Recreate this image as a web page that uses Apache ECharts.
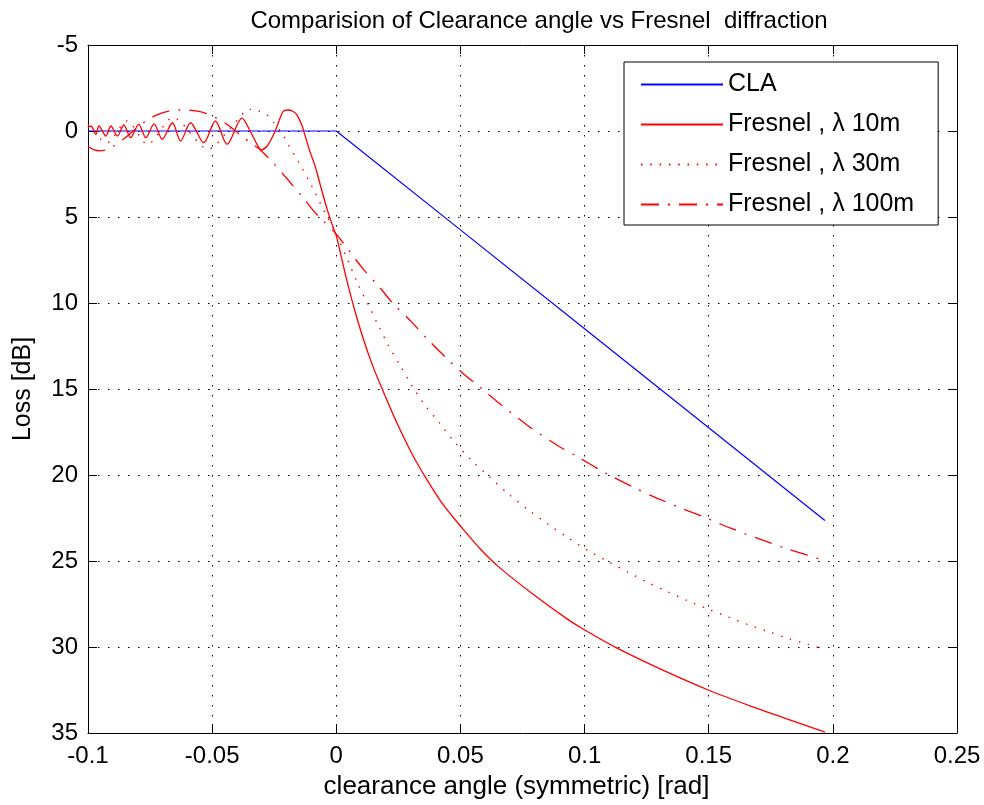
<!DOCTYPE html>
<html>
<head>
<meta charset="utf-8">
<script src="https://cdn.jsdelivr.net/npm/echarts@6/dist/echarts.min.js"></script>
<style>
html,body{margin:0;padding:0;background:#fff;}
#chart{width:984px;height:805px;}
</style>
</head>
<body>
<div id="chart"></div>
<script>
// ---- data ----
const titleText = 'Comparision of Clearance angle vs Fresnel  diffraction';
const xName = 'clearance angle (symmetric) [rad]';
const yName = 'Loss [dB]';
const seriesNames = ['CLA', 'Fresnel , \u03bb 10m', 'Fresnel , \u03bb 30m', 'Fresnel , \u03bb 100m'];

const cla = [[-0.1, 0], [0, 0], [0.05, 5.75], [0.1, 11.5], [0.15, 17.25], [0.1968, 22.65]];

const fresnel10 = [
  [-0.1, -0.2], [-0.0988, -0.29], [-0.0968, 0.19], [-0.0956, -0.29], [-0.0928, 0.29],
  [-0.0908, -0.29], [-0.0881, 0.29], [-0.0856, -0.35], [-0.0828, 0.39], [-0.0796, -0.39],
  [-0.0767, 0.39], [-0.0734, -0.42], [-0.0701, 0.48], [-0.066, -0.48], [-0.0627, 0.58],
  [-0.0587, -0.48], [-0.0534, 0.68], [-0.0487, -0.58], [-0.044, 0.77], [-0.038, -0.75],
  [-0.034, 0.2], [-0.030, 1.1], [-0.0275, 0.8], [-0.0246, 0.0], [-0.0215, -1.12],
  [-0.0195, -1.22], [-0.0175, -1.15], [-0.0159, -0.95], [-0.0139, -0.35], [-0.0126, 0.25],
  [-0.0106, 1.2], [-0.0086, 2.0], [-0.0066, 3.05], [-0.004, 4.4], [-0.002, 5.3],
  [0, 6.1], [0.002, 7.3], [0.0041, 8.6], [0.0068, 10.1], [0.0108, 12.05], [0.0148, 13.7],
  [0.0188, 15.1], [0.0242, 16.9], [0.0308, 18.85], [0.0362, 20.2], [0.0429, 21.7],
  [0.0505, 23.05], [0.058, 24.3], [0.0659, 25.4], [0.0794, 26.95], [0.0928, 28.35], [0.0999, 29.0],
  [0.1129, 30.05], [0.1331, 31.45], [0.1498, 32.5], [0.1666, 33.42], [0.18, 34.1], [0.1968, 34.95]
];

const fresnel30 = [
  [-0.1, -0.38], [-0.0924, 0.68], [-0.0843, -0.58], [-0.076, 0.77], [-0.0658, -0.77],
  [-0.0515, 1.05], [-0.0425, -0.2], [-0.0346, -1.26], [-0.032, -1.2], [-0.028, -0.95],
  [-0.025, -0.45], [-0.0219, 0.13], [-0.0193, 0.8], [-0.015, 1.85], [-0.0106, 3.0],
  [-0.0082, 3.67], [-0.0063, 4.25], [-0.0042, 4.83], [0, 6.0], [0.0048, 7.55],
  [0.0088, 8.93], [0.0128, 10.09], [0.0168, 11.26], [0.0208, 12.42], [0.0255, 13.58],
  [0.0302, 14.74], [0.0355, 15.9], [0.0415, 16.96], [0.0471, 18.0], [0.0545, 19.15],
  [0.0616, 20.1], [0.0689, 21.05], [0.0771, 22.0], [0.0852, 22.85], [0.0933, 23.65],
  [0.1013, 24.38], [0.1094, 25.02], [0.1175, 25.65], [0.1256, 26.25], [0.1336, 26.8],
  [0.1417, 27.32], [0.1498, 27.8], [0.1578, 28.25], [0.1659, 28.7], [0.1739, 29.1],
  [0.182, 29.5], [0.19, 29.85], [0.1968, 30.15]
];

const fresnel100 = [
  [-0.1, 0.9], [-0.0975, 1.1], [-0.095, 1.15], [-0.0925, 1.08], [-0.09, 0.9],
  [-0.0855, 0.45], [-0.081, -0.1], [-0.0765, -0.6], [-0.072, -0.95], [-0.0675, -1.15],
  [-0.063, -1.22], [-0.0585, -1.2], [-0.054, -1.1], [-0.0505, -0.9], [-0.0467, -0.64],
  [-0.0427, -0.25], [-0.0387, 0.23], [-0.0346, 0.68], [-0.0306, 1.1], [-0.0254, 1.86],
  [-0.0194, 2.85], [-0.0134, 3.86], [-0.0094, 4.6], [-0.0066, 5.04], [0, 6.0],
  [0.0107, 8.0], [0.0175, 9.1], [0.0227, 10.0], [0.0303, 11.1], [0.0367, 12.1],
  [0.0443, 13.2], [0.0507, 14.05], [0.0588, 15.0], [0.0659, 15.86], [0.078, 17.22],
  [0.0893, 18.3], [0.0974, 18.96], [0.1086, 19.9], [0.1195, 20.7], [0.1284, 21.3],
  [0.1395, 21.96], [0.1498, 22.54], [0.1586, 23.08], [0.17, 23.7], [0.1814, 24.28],
  [0.1895, 24.65], [0.1968, 24.98]
];

const xMin = -0.1, xMax = 0.25, xStep = 0.05;
const yMin = -5, yMax = 35, yStep = 5;

// ---- chart ----
const FONT = '"Liberation Sans", Arial, Helvetica, sans-serif';
const chart = echarts.init(document.getElementById('chart'), null, {renderer: 'canvas'});

const gridLine = {show: true, lineStyle: {color: '#000', width: 1, type: [1.5, 8.5]}};
const tick = {show: true, inside: true, length: 9, lineStyle: {color: '#000', width: 1}};
const axisLine = {show: true, onZero: false, lineStyle: {color: '#000', width: 1}};
const lbl = {color: '#000', fontSize: 24, fontFamily: FONT};

const option = {
  animation: false,
  backgroundColor: '#fff',
  title: {
    text: titleText,
    left: 534, top: 4, textAlign: 'center',
    textStyle: {color: '#000', fontSize: 24, fontWeight: 'normal', fontFamily: FONT}
  },
  legend: {
    orient: 'vertical',
    left: 624, top: 62,
    padding: [10, 24, 8, 16],
    itemWidth: 82, itemHeight: 14, itemGap: 15,
    itemStyle: {color: 'rgba(0,0,0,0)', borderWidth: 0, opacity: 0},
    backgroundColor: '#fff', borderColor: '#000', borderWidth: 1, borderRadius: 0,
    textStyle: {color: '#000', fontSize: 25, fontFamily: FONT, lineHeight: 24},
    data: seriesNames
  },
  grid: {left: 88, right: 27, top: 45, bottom: 72, containLabel: false},
  xAxis: [{
    type: 'value', min: xMin, max: xMax, interval: xStep,
    position: 'bottom',
    name: xName, nameLocation: 'middle', nameGap: 41,
    nameTextStyle: {color: '#000', fontSize: 26, fontFamily: FONT, padding: [0, 12, 0, 0]},
    axisLine: axisLine, axisTick: tick,
    axisLabel: Object.assign({margin: 11, formatter: v => String(parseFloat(v.toFixed(2)))}, lbl),
    splitLine: gridLine
  }, {
    type: 'value', min: xMin, max: xMax, interval: xStep,
    position: 'top',
    axisLine: axisLine, axisTick: tick, axisLabel: {show: false}, splitLine: {show: false}
  }],
  yAxis: [{
    type: 'value', min: yMin, max: yMax, interval: yStep, inverse: true,
    position: 'left',
    name: yName, nameLocation: 'middle', nameGap: 52, nameRotate: 90,
    nameTextStyle: {color: '#000', fontSize: 25, fontFamily: FONT},
    axisLine: axisLine, axisTick: tick,
    axisLabel: Object.assign({margin: 10}, lbl),
    splitLine: gridLine
  }, {
    type: 'value', min: yMin, max: yMax, interval: yStep, inverse: true,
    position: 'right',
    axisLine: axisLine, axisTick: tick, axisLabel: {show: false}, splitLine: {show: false}
  }],
  series: [{
    name: seriesNames[0], type: 'line', data: cla, symbol: 'none',
    lineStyle: {color: '#0000ff', width: 1.2, type: 'solid'}, itemStyle: {color: '#0000ff'}, z: 3
  }, {
    name: seriesNames[1], type: 'line', data: fresnel10, symbol: 'none', smooth: 0.3,
    lineStyle: {color: '#ff0000', width: 1.3, type: 'solid'}, itemStyle: {color: '#ff0000'}, z: 4
  }, {
    name: seriesNames[2], type: 'line', data: fresnel30, symbol: 'none', smooth: 0.3,
    lineStyle: {color: '#ff0000', width: 1.4, type: [1.5, 7.8]}, itemStyle: {color: '#ff0000'}, z: 4
  }, {
    name: seriesNames[3], type: 'line', data: fresnel100, symbol: 'none', smooth: 0.3,
    lineStyle: {color: '#ff0000', width: 1.3, type: [18, 9, 2, 9]}, itemStyle: {color: '#ff0000'}, z: 4
  }]
};
chart.setOption(option);
</script>
</body>
</html>
